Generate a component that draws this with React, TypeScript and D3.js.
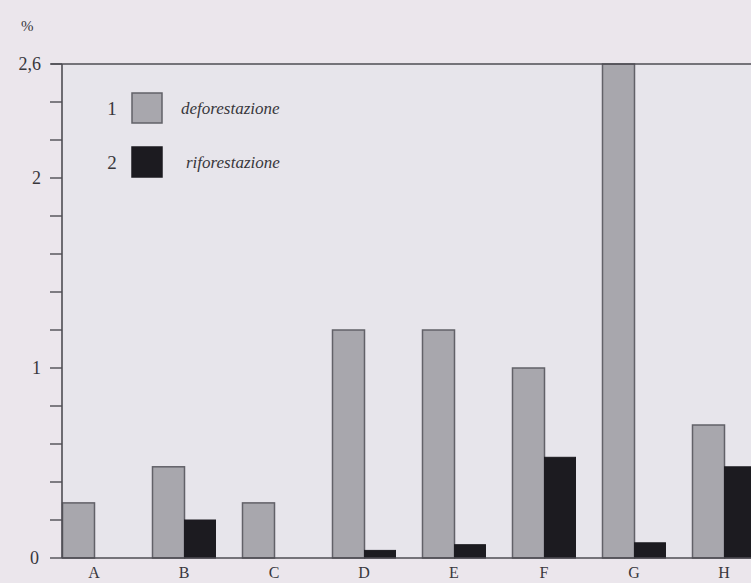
import React from "react";
import * as d3 from "d3";

const categories = ["A", "B", "C", "D", "E", "F", "G", "H"];
const deforestazione = [0.29, 0.48, 0.29, 1.2, 1.2, 1.0, 2.6, 0.7];
const riforestazione = [0, 0.2, 0, 0.04, 0.07, 0.53, 0.08, 0.48];
const seriesNames = ["deforestazione", "riforestazione"];
const minorTicks = [0, 0.2, 0.4, 0.6, 0.8, 1, 1.2, 1.4, 1.6, 1.8, 2, 2.2, 2.4, 2.6];
const labelTicks = [
  { v: 0, t: "0" },
  { v: 1, t: "1" },
  { v: 2, t: "2" },
  { v: 2.6, t: "2,6" },
];

const W = 751;
const H = 583;
const X0 = 62;
const Y0 = 558;
const YTOP = 64;

export default function App() {
  const y = d3.scaleLinear().domain([0, 2.6]).range([Y0, YTOP]);
  const x = d3
    .scaleBand<string>()
    .domain(categories)
    .range([X0, X0 + 90 * 8])
    .paddingInner(0)
    .paddingOuter(0);
  const barW = 32;
  const groupX = (c: string) => x(c) as number;

  const grayFill = "#a8a7ad";
  const grayStroke = "#626168";
  const blackFill = "#1c1b20";
  const axisColor = "#4e4d53";
  const textColor = "#38373c";
  const font = "'Liberation Serif', 'DejaVu Serif', serif";

  return (
    <svg
      width={W}
      height={H}
      style={{ position: "absolute", left: 0, top: 0, display: "block" }}
    >
      <rect x={0} y={0} width={W} height={H} fill="#ebe6ec" />
      <rect x={X0} y={YTOP} width={W - X0} height={Y0 - YTOP} fill="#e7e5eb" />

      {/* bars */}
      <g>
        {categories.map((c, i) => {
          const gx = groupX(c);
          const d = deforestazione[i];
          const r = riforestazione[i];
          return (
            <g key={c}>
              {d > 0 && (
                <rect
                  x={gx + 0.5}
                  y={y(d)}
                  width={barW}
                  height={Y0 - y(d)}
                  fill={grayFill}
                  stroke={grayStroke}
                  strokeWidth={1.5}
                />
              )}
              {r > 0 && (
                <rect
                  x={gx + barW + 0.5}
                  y={y(r)}
                  width={barW - 1}
                  height={Y0 - y(r)}
                  fill={blackFill}
                  stroke={blackFill}
                  strokeWidth={1}
                />
              )}
            </g>
          );
        })}
      </g>

      {/* axes */}
      <line x1={X0} y1={YTOP} x2={X0} y2={Y0} stroke={axisColor} strokeWidth={1.6} />
      <line x1={X0} y1={Y0} x2={W} y2={Y0} stroke={axisColor} strokeWidth={1.6} />
      <line x1={51} y1={YTOP} x2={W} y2={YTOP} stroke={axisColor} strokeWidth={1.6} />
      {minorTicks.map((v) => (
        <line
          key={v}
          x1={50}
          x2={X0}
          y1={y(v)}
          y2={y(v)}
          stroke={axisColor}
          strokeWidth={1.4}
        />
      ))}
      {labelTicks.map((l) => (
        <text
          key={l.t}
          x={l.v === 0 ? 39 : 41}
          y={y(l.v) + 6}
          textAnchor="end"
          fontFamily={font}
          fontSize={18}
          fill={textColor}
        >
          {l.t}
        </text>
      ))}
      <text x={21} y={31} fontFamily={font} fontSize={15} fill={textColor}>
        %
      </text>

      {/* category labels */}
      {categories.map((c) => (
        <text
          key={c}
          x={groupX(c) + barW}
          y={578}
          textAnchor="middle"
          fontFamily={font}
          fontSize={16}
          fill={textColor}
        >
          {c}
        </text>
      ))}

      {/* legend */}
      {seriesNames.map((s, i) => (
        <g key={s} transform={`translate(0, ${i * 54})`}>
          <text x={112} y={115} textAnchor="middle" fontFamily={font} fontSize={19} fill={textColor}>
            {i + 1}
          </text>
          <rect
            x={132}
            y={93}
            width={30}
            height={30}
            fill={i === 0 ? grayFill : blackFill}
            stroke={i === 0 ? grayStroke : blackFill}
            strokeWidth={1.5}
          />
          <text
            x={i === 0 ? 181 : 186}
            y={114}
            fontFamily={font}
            fontStyle="italic"
            fontSize={17}
            fill={textColor}
          >
            {s}
          </text>
        </g>
      ))}
    </svg>
  );
}
